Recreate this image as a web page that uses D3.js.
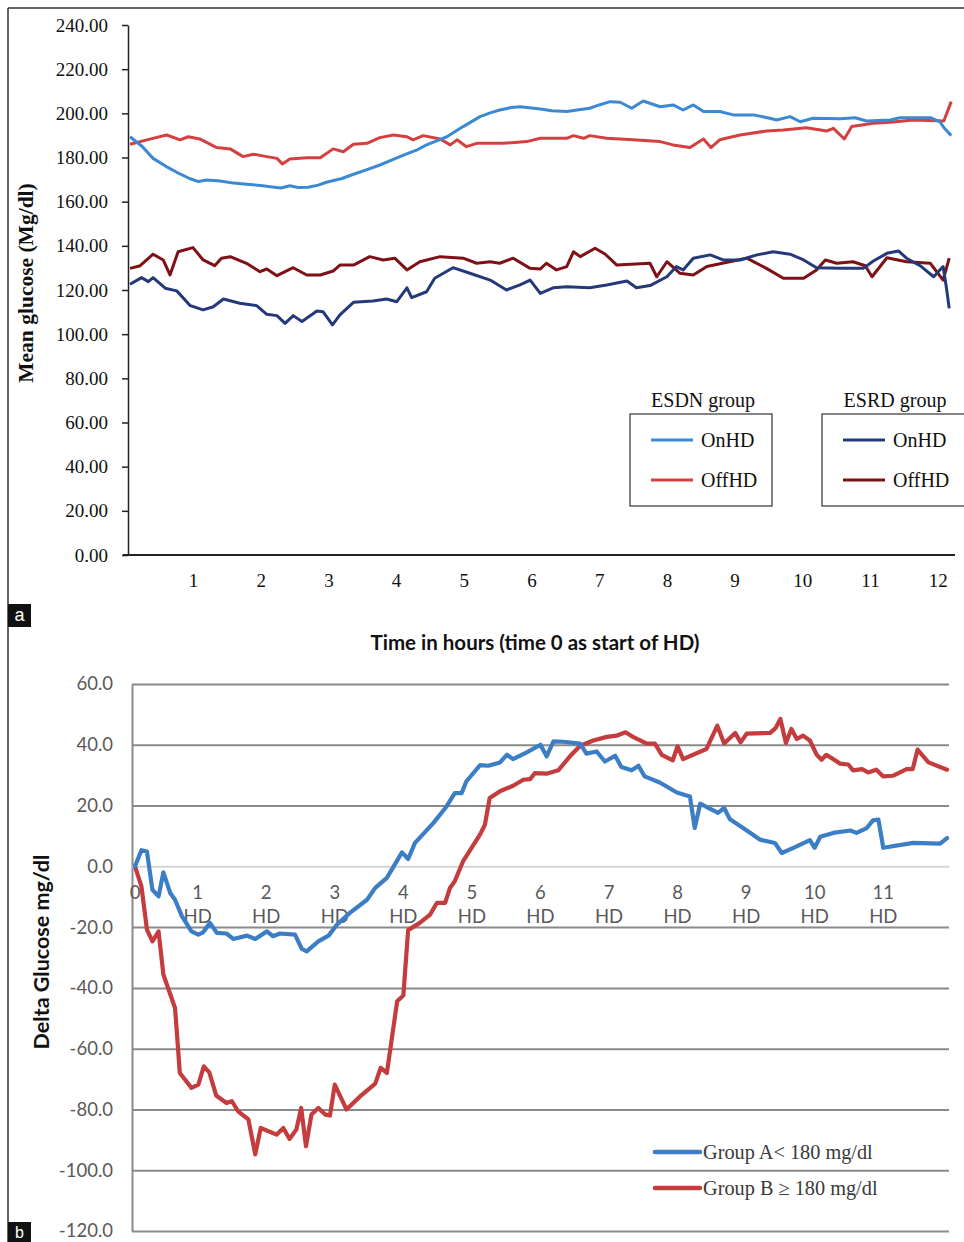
<!DOCTYPE html>
<html>
<head>
<meta charset="utf-8">
<script src="https://cdn.jsdelivr.net/npm/d3@7"></script>
<style>
  body { margin: 0; background: #fff; }
</style>
</head>
<body>
<div id="vis"></div>
<script>
// panel a : mean glucose, [hour, value]
const esdnOn = [[0.07,189.4],[0.25,185],[0.41,179.6],[0.6,176],[0.76,173.3],[0.95,170.5],[1.08,169.1],[1.2,169.8],[1.40,169.4],[1.6,168.4],[1.79,167.9],[2.0,167.3],[2.14,166.8],[2.3,166.2],[2.43,167.2],[2.55,166.4],[2.70,166.5],[2.85,167.5],[2.97,168.8],[3.2,170.5],[3.37,172.4],[3.55,174.3],[3.76,176.6],[3.95,179],[4.11,181.1],[4.3,183.3],[4.45,185.7],[4.6,187.5],[4.75,189.4],[4.99,194],[5.24,198.5],[5.4,200.3],[5.53,201.5],[5.7,202.6],[5.83,203],[6.0,202.4],[6.13,202],[6.3,201.2],[6.52,200.8],[6.7,201.6],[6.86,202.3],[7.0,203.8],[7.16,205.3],[7.31,205],[7.48,202.3],[7.65,205.6],[7.9,203],[8.09,203.8],[8.24,201.5],[8.39,203.8],[8.54,200.8],[8.78,200.8],[8.98,199.3],[9.28,199.3],[9.52,197.8],[9.62,197],[9.82,198.5],[9.97,196.2],[10.16,197.8],[10.56,197.5],[10.78,198],[10.95,196.5],[11.3,197],[11.44,198],[11.89,198],[12.03,196.2],[12.1,193.2],[12.2,189.9]];
const esdnOff = [[0.07,186],[0.32,188],[0.61,190.2],[0.81,188],[0.93,189.4],[1.10,188.4],[1.35,184.5],[1.55,183.9],[1.74,180.4],[1.89,181.5],[2.09,180.4],[2.24,179.6],[2.32,177.1],[2.43,179.3],[2.68,179.9],[2.88,179.9],[3.07,183.9],[3.22,182.6],[3.37,186],[3.57,186.4],[3.76,189],[3.96,190.2],[4.16,189.4],[4.25,188],[4.40,189.9],[4.65,188.4],[4.80,185.7],[4.90,188],[5.04,184.9],[5.19,186.4],[5.58,186.4],[5.93,187.2],[6.13,188.7],[6.52,188.7],[6.62,189.9],[6.77,188.7],[6.86,189.9],[7.11,188.7],[7.50,188],[7.9,187.2],[8.09,185.7],[8.34,184.5],[8.54,188.4],[8.65,184.5],[8.78,188],[9.08,190.2],[9.47,192],[9.72,192.5],[10.06,193.5],[10.36,192],[10.46,193.2],[10.62,188.4],[10.73,194],[11.05,195.5],[11.3,196],[11.64,197],[12.09,196.5],[12.2,205.3]];
const esrdOn = [[0.07,122.6],[0.24,125.6],[0.34,123.8],[0.41,125.6],[0.59,120.8],[0.76,119.6],[0.96,112.9],[1.15,111],[1.30,112.4],[1.45,115.9],[1.69,114],[1.94,112.9],[2.09,109],[2.24,108.4],[2.36,104.9],[2.48,108.4],[2.61,105.7],[2.83,110.5],[2.92,110.2],[3.06,104.2],[3.17,108.7],[3.37,114.4],[3.66,115],[3.86,115.9],[4.01,114.7],[4.16,121],[4.23,116.5],[4.45,119.2],[4.57,125.3],[4.84,130.1],[5.09,127.6],[5.39,124.5],[5.63,120],[5.83,122.3],[5.98,124.5],[6.13,118.5],[6.32,121],[6.52,121.5],[6.86,121],[7.11,122.3],[7.41,124.1],[7.55,121],[7.75,122],[8.00,126],[8.14,130.6],[8.24,129.1],[8.39,134.4],[8.64,135.9],[8.83,133.6],[9.08,133.6],[9.33,135.9],[9.57,137.3],[9.82,136.2],[10.02,133.6],[10.21,130.1],[10.56,129.8],[10.90,129.8],[11.05,133.1],[11.25,136.6],[11.42,137.7],[11.54,134.4],[11.74,131],[11.94,126],[12.08,130.6],[12.13,120.8],[12.17,111.7]];
const esrdOff = [[0.07,129.8],[0.22,131],[0.41,136.2],[0.56,133.6],[0.66,126.8],[0.78,137.3],[1.00,139.2],[1.15,133.6],[1.32,131],[1.42,134.4],[1.55,135.1],[1.79,132.1],[1.99,128.3],[2.09,129.5],[2.24,126.5],[2.48,130.1],[2.68,126.8],[2.88,126.8],[3.07,128.6],[3.17,131.3],[3.37,131.3],[3.61,135.1],[3.81,133.6],[3.98,134.4],[4.16,129.1],[4.35,132.8],[4.65,135.1],[4.99,134.4],[5.19,132.1],[5.39,132.8],[5.53,132.1],[5.73,134.4],[5.98,129.8],[6.13,129.5],[6.22,132.1],[6.37,129.1],[6.52,130.6],[6.62,137.3],[6.72,135.1],[6.94,138.9],[7.09,136.2],[7.26,131.3],[7.75,132.1],[7.85,126],[8.00,132.8],[8.19,127.6],[8.39,126.8],[8.59,130.6],[8.98,133.1],[9.18,134.4],[9.47,129.8],[9.72,125.3],[10.02,125.3],[10.21,129.1],[10.34,133.6],[10.51,132.1],[10.75,132.8],[10.93,131],[11.03,126],[11.25,134.6],[11.54,132.8],[11.89,132.1],[12.08,124.5],[12.17,134.4]];

const yTicksA = [0,20,40,60,80,100,120,140,160,180,200,220,240];
const xTicksA = [1,2,3,4,5,6,7,8,9,10,11,12];
const legendA = [
  {title: 'ESDN group', items: [['OnHD', '#3b89d2'], ['OffHD', '#d3403f']]},
  {title: 'ESRD group', items: [['OnHD', '#24397a'], ['OffHD', '#7d1115']]}
];

// panel b : delta glucose, [hour, value]
const groupA = [[0.086,0],[0.18,5.3],[0.26,4.9],[0.34,-7.7],[0.43,-9.9],[0.50,-2],[0.60,-8.8],[0.67,-11],[0.77,-16.4],[0.91,-21.4],[1.01,-22.5],[1.08,-21.7],[1.18,-18.6],[1.28,-21.9],[1.42,-22.1],[1.52,-23.9],[1.72,-22.8],[1.84,-23.9],[2.01,-21.4],[2.10,-23],[2.20,-22.1],[2.42,-22.5],[2.52,-27.2],[2.59,-28],[2.76,-24.7],[2.91,-22.8],[3.03,-19.2],[3.22,-15.3],[3.47,-11],[3.59,-7.1],[3.76,-3.8],[3.98,4.6],[4.07,2.4],[4.17,7.7],[4.44,14.3],[4.63,19.7],[4.75,24.1],[4.85,24.1],[4.92,28],[5.12,33.3],[5.24,33.1],[5.41,34.2],[5.51,36.7],[5.60,35.3],[5.80,37.5],[6.0,40],[6.09,36.2],[6.19,41.1],[6.33,41],[6.58,40.4],[6.67,37.1],[6.82,37.8],[6.94,34.5],[7.09,36.4],[7.18,32.7],[7.33,31.6],[7.43,33.1],[7.52,29.6],[7.74,27.6],[7.99,24.3],[8.18,23],[8.25,12.6],[8.33,20.6],[8.59,17.6],[8.68,19.2],[8.76,15.6],[9.01,11.8],[9.20,8.8],[9.42,7.7],[9.52,4.4],[9.69,6.1],[9.93,8.6],[10.0,6.1],[10.08,9.7],[10.27,11],[10.52,11.8],[10.61,11],[10.76,12.6],[10.85,15.1],[10.93,15.4],[11.0,6.1],[11.44,7.7],[11.83,7.5],[11.93,9.3]];
const groupB = [[0.086,0],[0.18,-6.6],[0.26,-20.8],[0.34,-24.7],[0.43,-21.4],[0.50,-35.6],[0.67,-46.6],[0.74,-68],[0.91,-72.9],[1.01,-71.8],[1.09,-65.8],[1.17,-67.8],[1.27,-75.4],[1.42,-77.9],[1.50,-77.3],[1.59,-80.6],[1.74,-83.3],[1.84,-94.8],[1.92,-86.1],[2.15,-88.3],[2.25,-86.1],[2.34,-89.7],[2.44,-86.6],[2.51,-79.5],[2.58,-92.1],[2.66,-81.7],[2.76,-79.5],[2.86,-81.7],[2.93,-82],[3.00,-71.8],[3.17,-80],[3.37,-75.7],[3.59,-71.5],[3.67,-66.3],[3.76,-68],[3.83,-57],[3.91,-44.4],[4.00,-42.5],[4.07,-21],[4.24,-18.6],[4.39,-15.9],[4.49,-12],[4.61,-12],[4.68,-7.1],[4.75,-4.9],[4.87,1.6],[5.12,10.5],[5.19,13.7],[5.26,22.5],[5.41,24.7],[5.60,26.5],[5.75,28.5],[5.85,28.7],[5.92,30.7],[6.09,30.5],[6.26,31.6],[6.43,36.2],[6.58,39.7],[6.77,41.4],[6.97,42.6],[7.11,43],[7.24,44.1],[7.35,42.6],[7.55,40.4],[7.67,40.4],[7.77,36.7],[7.93,34.9],[8.00,39.5],[8.08,35.3],[8.42,38.6],[8.58,46.3],[8.68,40.4],[8.84,43.9],[8.92,40.8],[9.01,43.7],[9.35,43.9],[9.43,45.5],[9.50,48.5],[9.58,40.6],[9.66,45.2],[9.74,41.9],[9.83,43],[9.93,41.4],[10.03,36.7],[10.10,35.1],[10.17,36.7],[10.37,33.8],[10.49,33.5],[10.56,31.6],[10.69,32],[10.78,30.9],[10.90,31.8],[11.0,29.6],[11.14,29.8],[11.34,32],[11.43,32],[11.50,38.4],[11.66,34.2],[11.93,31.8]];

const yTicksB = [-120,-100,-80,-60,-40,-20,0,20,40,60];
const xTicksB = [0,1,2,3,4,5,6,7,8,9,10,11];
const legendB = [['Group A< 180 mg/dl', '#3b7ec6'], ['Group B \u2265 180 mg/dl', '#c43c3d']];

let svg = d3.select('#vis')
            .append('svg')
            .attr('width', 964)
            .attr('height', 1242)

// outer frame and panel letters
function drawFrame(){
    svg.append('line')
        .attr('x1', 8).attr('x2', 964).attr('y1', 8).attr('y2', 8)
        .attr('stroke', '#333').attr('stroke-width', 1.5)
    svg.append('line')
        .attr('x1', 8).attr('x2', 8).attr('y1', 8).attr('y2', 1242)
        .attr('stroke', '#333').attr('stroke-width', 1.5)

    let tags = [['a', 604], ['b', 1222]]
    tags.forEach(t => {
        svg.append('rect')
            .attr('x', 8).attr('y', t[1]).attr('width', 23).attr('height', t[0] == 'b' ? 20 : 23)
            .attr('fill', '#111')
        svg.append('text')
            .attr('x', 19.5).attr('y', t[1] + (t[0] == 'b' ? 16 : 17))
            .attr('text-anchor', 'middle')
            .attr('font-family', 'Liberation Sans, Arial')
            .attr('font-size', t[0] == 'b' ? 16 : 18)
            .attr('fill', '#fff')
            .text(t[0])
    })
}

function drawTop(){
    let x = d3.scaleLinear().domain([0, 12]).range([125.3, 937.7])
    let y = d3.scaleLinear().domain([0, 240]).range([555, 25])
    let serif = 'Liberation Serif, Times New Roman, serif'

    // y axis
    let yAxis = svg.append('g')
        .attr('transform', 'translate(128,0)')
        .call(d3.axisLeft(y).tickValues(yTicksA).tickFormat(d3.format('.2f'))
              .tickSize(6).tickSizeOuter(0).tickPadding(14))
    yAxis.selectAll('path, line').attr('stroke', '#222').attr('stroke-width', 1.5)
    yAxis.selectAll('text')
        .attr('font-family', serif).attr('font-size', 19).attr('fill', '#111')

    // x axis labels, no tick marks
    let xAxis = svg.append('g')
        .attr('transform', 'translate(0,555)')
        .call(d3.axisBottom(x).tickValues(xTicksA).tickSize(0).tickPadding(19))
    xAxis.select('.domain').remove()
    xAxis.selectAll('text')
        .attr('font-family', serif).attr('font-size', 19).attr('fill', '#111')
    svg.append('line')
        .attr('x1', 123).attr('x2', 955).attr('y1', 555).attr('y2', 555)
        .attr('stroke', '#222').attr('stroke-width', 1.8)

    // series
    let line = d3.line().x(d => x(d[0])).y(d => y(d[1]))
    let series = [[esdnOff, legendA[0].items[1][1]], [esdnOn, legendA[0].items[0][1]],
                  [esrdOff, legendA[1].items[1][1]], [esrdOn, legendA[1].items[0][1]]]
    series.forEach(s => {
        svg.append('path')
            .datum(s[0])
            .attr('d', line)
            .attr('fill', 'none')
            .attr('stroke', s[1])
            .attr('stroke-width', 3)
            .attr('stroke-linejoin', 'round')
    })

    // axis titles
    svg.append('text')
        .attr('transform', 'translate(33,283) rotate(-90)')
        .attr('text-anchor', 'middle')
        .attr('font-family', serif).attr('font-weight', 'bold').attr('font-size', 21.5)
        .attr('fill', '#111')
        .text('Mean glucose (Mg/dl)')
    svg.append('text')
        .attr('x', 535).attr('y', 650)
        .attr('text-anchor', 'middle')
        .attr('font-family', 'Lato, Open Sans, sans-serif').attr('font-weight', 'bold')
        .attr('font-size', 20.5).attr('fill', '#111')
        .text('Time in hours (time 0 as start of HD)')

    // two legend boxes
    let boxX = [630, 822]
    legendA.forEach((g, i) => {
        let bx = boxX[i]
        svg.append('text')
            .attr('x', bx + 73).attr('y', 407)
            .attr('text-anchor', 'middle')
            .attr('font-family', serif).attr('font-size', 20).attr('fill', '#111')
            .text(g.title)
        svg.append('rect')
            .attr('x', bx).attr('y', 414).attr('width', i == 0 ? 142 : 150).attr('height', 92)
            .attr('fill', 'none').attr('stroke', '#333').attr('stroke-width', 1.2)
        g.items.forEach((it, j) => {
            let ly = 440 + j * 40
            svg.append('line')
                .attr('x1', bx + 21).attr('x2', bx + 63).attr('y1', ly).attr('y2', ly)
                .attr('stroke', it[1]).attr('stroke-width', 3)
            svg.append('text')
                .attr('x', bx + 71).attr('y', ly + 7)
                .attr('font-family', serif).attr('font-size', 20).attr('fill', '#111')
                .text(it[0])
        })
    })
}

function drawBottom(){
    let x = d3.scaleLinear().domain([0, 12]).range([129.1, 951.8])
    let y = d3.scaleLinear().domain([-120, 60]).range([1231, 684])
    let sans = 'Lato, Open Sans, sans-serif'
    let left = 132, right = 949

    // grid lines with labels
    let yAxis = svg.append('g')
        .attr('transform', 'translate(' + left + ',0)')
        .call(d3.axisLeft(y).tickValues(yTicksB).tickFormat(d3.format('.1f'))
              .tickSize(-(right - left)).tickSizeOuter(0).tickPadding(19))
    yAxis.selectAll('.tick line')
        .attr('stroke', d => d === 0 ? '#d4d4d4' : '#8a8a8a')
        .attr('stroke-width', 2)
    yAxis.select('.domain').attr('stroke', '#8a8a8a').attr('stroke-width', 2)
    yAxis.selectAll('text')
        .attr('font-family', sans).attr('font-size', 18.5).attr('fill', '#595959')
        .text(d => d3.format('.1f')(d).replace('\u2212', '-'))

    // hour labels under the zero line
    let hours = svg.append('g')
    xTicksB.forEach(t => {
        let px = t === 0 ? Math.max(x(t), 135) : x(t)
        hours.append('text')
            .attr('x', px).attr('y', 899)
            .attr('text-anchor', 'middle')
            .attr('font-family', sans).attr('font-size', 18.5).attr('fill', '#595959')
            .text(t)
        if (t > 0) {
            hours.append('text')
                .attr('x', px).attr('y', 923)
                .attr('text-anchor', 'middle')
                .attr('font-family', sans).attr('font-size', 18.5).attr('fill', '#595959')
                .text('HD')
        }
    })

    // series
    let line = d3.line().x(d => x(d[0])).y(d => y(d[1]))
    let series = [[groupB, legendB[1][1]], [groupA, legendB[0][1]]]
    series.forEach(s => {
        svg.append('path')
            .datum(s[0])
            .attr('d', line)
            .attr('fill', 'none')
            .attr('stroke', s[1])
            .attr('stroke-width', 4.2)
            .attr('stroke-linejoin', 'round')
            .attr('stroke-linecap', 'round')
    })

    svg.append('text')
        .attr('transform', 'translate(49,952) rotate(-90)')
        .attr('text-anchor', 'middle')
        .attr('font-family', sans).attr('font-weight', 'bold').attr('font-size', 21.5)
        .attr('fill', '#111')
        .text('Delta Glucose mg/dl')

    // legend
    legendB.forEach((it, i) => {
        let ly = 1152 + i * 36
        svg.append('line')
            .attr('x1', 655).attr('x2', 700).attr('y1', ly).attr('y2', ly)
            .attr('stroke', it[1]).attr('stroke-width', 4.5).attr('stroke-linecap', 'round')
        svg.append('text')
            .attr('x', 703).attr('y', ly + 7)
            .attr('font-family', 'Liberation Serif, Times New Roman, serif')
            .attr('font-size', 20.3).attr('fill', '#3a3a3a')
            .text(it[0])
    })
}

drawFrame()
drawTop()
drawBottom()
</script>
</body>
</html>
